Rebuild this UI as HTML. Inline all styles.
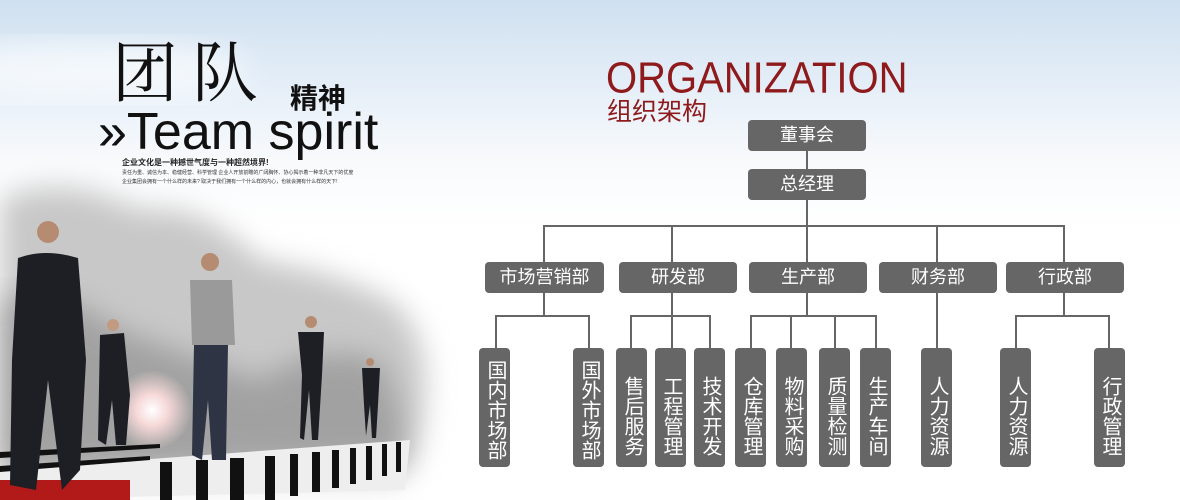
<!DOCTYPE html>
<html><head><meta charset="utf-8"><style>
body{margin:0;width:1180px;height:500px;overflow:hidden;position:relative;font-family:"Liberation Sans","Noto Sans CJK SC",sans-serif;background:linear-gradient(#cfe0f0 0px,#e6eff8 90px,#f8fafc 160px,#fff 230px);}
.b{position:absolute;background:#666;color:#fff;border-radius:4px;text-align:center;box-sizing:border-box}
.h{height:31px;line-height:31px;font-size:18px}
.v{width:31px;top:348px;height:119px;font-size:20px;writing-mode:vertical-rl;line-height:31px;padding-top:6px;letter-spacing:0px}
.l{position:absolute;background:#666}
</style></head><body>
<svg width="460" height="500" style="position:absolute;left:0;top:0">
<defs><filter id="bl"><feGaussianBlur stdDeviation="14"/></filter>
<radialGradient id="sun"><stop offset="0" stop-color="#fff"/><stop offset=".4" stop-color="#f6d8d8"/><stop offset="1" stop-color="#f6d8d8" stop-opacity="0"/></radialGradient></defs>
<ellipse cx="90" cy="70" rx="160" ry="30" fill="#fff" opacity=".6" filter="url(#bl)"/>
<path d="M0 200 Q60 170 140 210 Q200 200 260 260 Q330 270 390 300 Q430 330 425 400 Q420 460 400 480 L0 480Z" fill="#c8c8c8" filter="url(#bl)"/>
<path d="M0 300 Q50 280 120 330 Q200 360 260 380 Q320 340 380 360 Q410 420 400 460 L0 470Z" fill="#888" opacity=".6" filter="url(#bl)"/>
<circle cx="152" cy="410" r="40" fill="url(#sun)"/>
<g>
<path d="M0 470 L410 440 L405 490 L0 500Z" fill="#eee"/>
<g fill="#111">
<rect x="160" y="462" width="12" height="38"/><rect x="196" y="460" width="12" height="40"/><rect x="230" y="458" width="14" height="42"/>
<rect x="265" y="456" width="10" height="44"/><rect x="290" y="454" width="8" height="42"/><rect x="312" y="452" width="8" height="40"/>
<rect x="332" y="450" width="7" height="38"/><rect x="350" y="448" width="6" height="36"/><rect x="366" y="446" width="6" height="34"/><rect x="382" y="444" width="5" height="32"/><rect x="396" y="442" width="5" height="30"/>
<path d="M0 452 L160 444 L160 448 L0 458Z"/><path d="M0 466 L150 456 L150 460 L0 472Z"/>
</g>
<rect x="0" y="480" width="130" height="20" fill="#b21a1a"/>
</g>
<g fill="#1d1f24">
<circle cx="48" cy="232" r="11" fill="#b58c72"/>
<path d="M18 258 Q45 248 78 258 L86 360 L80 470 L62 490 L48 380 L36 490 L10 485 L12 360 Z"/>
<circle cx="113" cy="325" r="6" fill="#c29a82"/>
<path d="M100 335 L124 333 L130 395 L126 445 L116 445 L112 400 L106 445 L98 440 Z"/>
<circle cx="210" cy="262" r="9" fill="#b58c72"/>
<path d="M190 280 L232 280 L235 345 L192 345Z" fill="#9a9a9a"/>
<path d="M194 345 L228 345 L226 460 L212 460 L208 400 L202 460 L192 455Z" fill="#2e3444"/>
<circle cx="311" cy="322" r="6" fill="#b58c72"/>
<path d="M298 332 L324 332 L322 375 L318 440 L312 440 L309 390 L304 440 L300 438 L302 375Z"/>
<circle cx="370" cy="362" r="4" fill="#b58c72"/>
<path d="M362 368 L380 368 L378 405 L376 438 L372 438 L370 405 L366 436 L364 405Z"/>
</g>
</svg>
<div style="position:absolute;left:112px;top:40px;font-family:'Liberation Serif','Noto Serif CJK SC',serif;font-size:66px;line-height:70px;color:#111;letter-spacing:14px">团队</div>
<div style="position:absolute;left:290px;top:84px;font-size:28px;font-weight:bold;color:#111;line-height:30px">精神</div>
<div style="position:absolute;left:98px;top:104px;font-size:52px;line-height:56px;color:#111;font-family:'Liberation Sans',sans-serif;white-space:nowrap">»Team spirit</div>
<div style="position:absolute;left:122px;top:158px;font-size:8px;font-weight:bold;color:#222;line-height:10px">企业文化是一种撼世气度与一种超然境界!</div>
<div style="position:absolute;left:122px;top:169px;font-size:5px;color:#333;line-height:9px">责任为重、诚信为本、稳健经营、科学管理 企业人开放前瞻的广阔胸怀、协心揭示着一种非凡天下的优度<br>企业集团会拥有一个什么样的未来? 取决于我们拥有一个什么样的内心，也就会拥有什么样的天下!</div>

<div style="position:absolute;left:606px;top:54px;font-size:40px;color:#8e1a1c;line-height:44px;transform:scaleY(1.1);transform-origin:top left">ORGANIZATION</div>
<div style="position:absolute;left:607px;top:97px;font-size:25px;color:#8e1a1c;line-height:30px">组织架构</div>

<div class="l" style="left:806px;top:150px;width:2px;height:20px"></div>
<div class="l" style="left:806px;top:199px;width:2px;height:27px"></div>
<div class="l" style="left:543px;top:225px;width:522px;height:2px"></div>
<div class="l" style="left:543px;top:225px;width:2px;height:38px"></div>
<div class="l" style="left:671px;top:225px;width:2px;height:38px"></div>
<div class="l" style="left:806px;top:225px;width:2px;height:38px"></div>
<div class="l" style="left:936px;top:225px;width:2px;height:38px"></div>
<div class="l" style="left:1063px;top:225px;width:2px;height:38px"></div>

<div class="l" style="left:543px;top:292px;width:2px;height:24px"></div>
<div class="l" style="left:495px;top:315px;width:95px;height:2px"></div>
<div class="l" style="left:495px;top:315px;width:2px;height:34px"></div>
<div class="l" style="left:588px;top:315px;width:2px;height:34px"></div>

<div class="l" style="left:671px;top:292px;width:2px;height:57px"></div>
<div class="l" style="left:630px;top:315px;width:81px;height:2px"></div>
<div class="l" style="left:630px;top:315px;width:2px;height:34px"></div>
<div class="l" style="left:709px;top:315px;width:2px;height:34px"></div>

<div class="l" style="left:806px;top:292px;width:2px;height:24px"></div>
<div class="l" style="left:750px;top:315px;width:127px;height:2px"></div>
<div class="l" style="left:750px;top:315px;width:2px;height:34px"></div>
<div class="l" style="left:790px;top:315px;width:2px;height:34px"></div>
<div class="l" style="left:834px;top:315px;width:2px;height:34px"></div>
<div class="l" style="left:875px;top:315px;width:2px;height:34px"></div>

<div class="l" style="left:936px;top:292px;width:2px;height:57px"></div>

<div class="l" style="left:1063px;top:292px;width:2px;height:24px"></div>
<div class="l" style="left:1015px;top:315px;width:95px;height:2px"></div>
<div class="l" style="left:1015px;top:315px;width:2px;height:34px"></div>
<div class="l" style="left:1108px;top:315px;width:2px;height:34px"></div>

<div class="b h" style="left:748px;top:120px;width:118px">董事会</div>
<div class="b h" style="left:748px;top:169px;width:118px">总经理</div>
<div class="b h" style="left:485px;top:262px;width:119px">市场营销部</div>
<div class="b h" style="left:619px;top:262px;width:118px">研发部</div>
<div class="b h" style="left:749px;top:262px;width:118px">生产部</div>
<div class="b h" style="left:879px;top:262px;width:118px">财务部</div>
<div class="b h" style="left:1006px;top:262px;width:118px">行政部</div>

<div class="b v" style="left:479px;padding-top:4px">国内市场部</div>
<div class="b v" style="left:573px;padding-top:4px">国外市场部</div>
<div class="b v" style="left:616px;padding-top:16px">售后服务</div>
<div class="b v" style="left:655px;padding-top:16px">工程管理</div>
<div class="b v" style="left:694px;padding-top:16px">技术开发</div>
<div class="b v" style="left:735px;padding-top:16px">仓库管理</div>
<div class="b v" style="left:776px;padding-top:16px">物料采购</div>
<div class="b v" style="left:819px;padding-top:16px">质量检测</div>
<div class="b v" style="left:860px;padding-top:16px">生产车间</div>
<div class="b v" style="left:921px;padding-top:16px">人力资源</div>
<div class="b v" style="left:1000px;padding-top:16px">人力资源</div>
<div class="b v" style="left:1094px;padding-top:16px">行政管理</div>
</body></html>
